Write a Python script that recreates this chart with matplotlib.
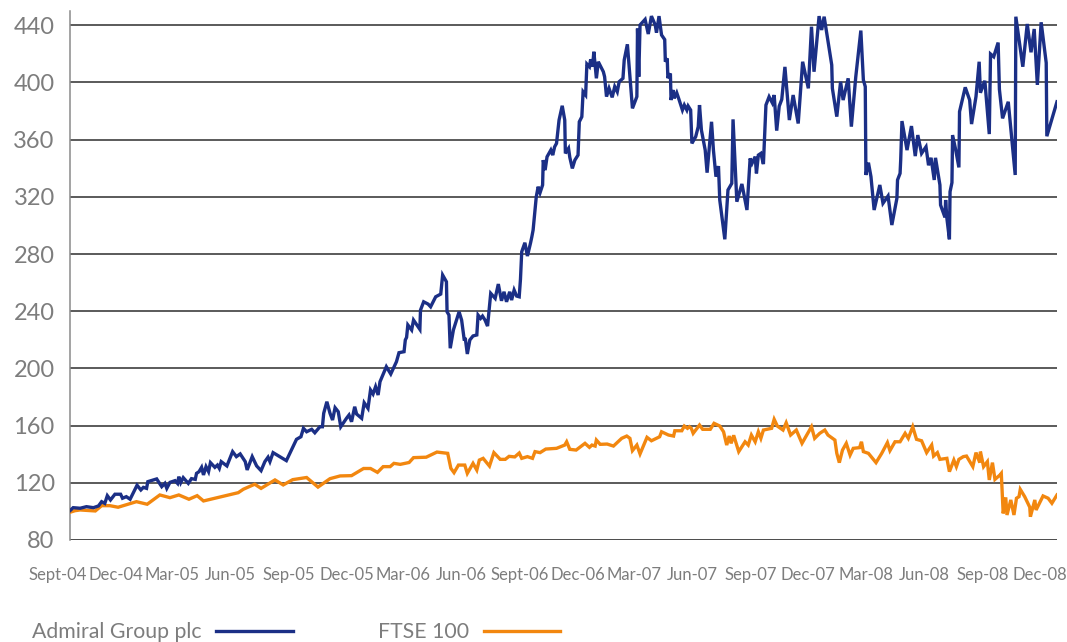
import numpy as np
import pandas as pd
import matplotlib
matplotlib.use("Agg")
import matplotlib.pyplot as plt

plt.rcParams['font.family'] = ['Lato', 'DejaVu Sans']

# days after 23 Sept 2004, share price rebased to 100
admiral_days = [0, 5, 16, 26, 37, 45, 50, 55, 59, 64, 71, 80, 83, 89, 95, 106, 112, 116, 121, 123,
                137, 145, 150, 153, 158, 166, 170, 172, 175, 179, 187, 192, 198, 200, 204, 208, 211,
                215, 219, 222, 229, 233, 236, 239, 248, 257, 263, 269, 277, 280, 288, 295, 302, 308,
                313, 316, 321, 342, 358, 365, 369, 374, 382, 387, 395, 399, 401, 406, 411, 415, 419,
                424, 428, 437, 441, 445, 450, 453, 461, 465, 471, 475, 479, 483, 487, 490, 500, 507,
                516, 520, 528, 530, 532, 534, 540, 543, 553, 554, 559, 566, 570, 578, 586, 589, 595,
                596, 599, 601, 606, 615, 619, 623, 625, 628, 632, 637, 643, 645, 649, 652, 656, 660,
                665, 672, 677, 682, 686, 690, 695, 698, 702, 706, 710, 712, 714, 719, 723, 728, 730,
                732, 737, 740, 743, 747, 748, 751, 754, 760, 763, 766, 769, 773, 778, 782, 783, 788,
                790, 794, 798, 803, 805, 809, 811, 815, 817, 821, 823, 826, 828, 832, 835, 843, 845,
                848, 852, 857, 861, 865, 868, 874, 876, 881, 885, 889, 896, 897, 899, 901, 909, 914,
                919, 925, 927, 931, 935, 940, 941, 944, 945, 949, 950, 953, 955, 959, 962, 968, 971,
                975, 977, 981, 983, 989, 993, 995, 998, 1004, 1007, 1014, 1017, 1021, 1025, 1027,
                1035, 1040, 1046, 1048, 1054, 1062, 1070, 1075, 1078, 1083, 1085, 1088, 1092, 1096,
                1100, 1105, 1110, 1113, 1117, 1121, 1125, 1130, 1137, 1143, 1151, 1158, 1167, 1172,
                1176, 1184, 1188, 1192, 1204, 1205, 1212, 1218, 1222, 1230, 1235, 1242, 1250, 1254,
                1257, 1258, 1262, 1266, 1271, 1280, 1285, 1293, 1299, 1307, 1308, 1312, 1313, 1315,
                1323, 1330, 1336, 1340, 1346, 1353, 1357, 1361, 1366, 1368, 1375, 1376, 1383, 1384,
                1386, 1390, 1391, 1394, 1395, 1400, 1405, 1406, 1415, 1422, 1425, 1432, 1437, 1439,
                1446, 1453, 1455, 1460, 1467, 1469, 1474, 1483, 1494, 1495, 1506, 1513, 1519, 1524,
                1529, 1535, 1543, 1544, 1560]
admiral_values = [100.5, 102.6, 102.2, 103.3, 102.6, 103.8, 106.8, 105.6, 111, 108, 112, 112, 109.2,
                  110.3, 108.5, 118.3, 115, 116.8, 116.1, 120.8, 122.7, 117.3, 119.6, 116.1, 120.3,
                  121.5, 119.6, 124.3, 120.1, 123.6, 119.6, 122.9, 122.4, 126.6, 127.8, 130.8, 125.5,
                  131.3, 127.8, 134.1, 130.8, 132.4, 130.1, 134.8, 131.8, 141.8, 138.3, 140.2, 134.8,
                  129, 138.3, 131.8, 128.5, 134.8, 137.9, 134.8, 141.1, 135.5, 150.4, 152.2, 158.1,
                  155.7, 157.4, 155, 159.2, 159.2, 168.6, 176.7, 168.6, 163.9, 172.5, 169.7, 159.2,
                  165.1, 167.4, 162.7, 173.2, 168.1, 165.1, 176, 172.1, 184.9, 182.1, 187.2, 181.4,
                  190.7, 201.2, 196.1, 204.7, 211, 211.7, 219.9, 221.7, 230.4, 226.9, 233.8, 227.3,
                  240.8, 246.6, 245, 243.1, 250.1, 252, 265.3, 260.6, 239.6, 237.3, 214.1, 226.9,
                  239.6, 233.8, 220.4, 220.4, 210.1, 219.9, 222.7, 223.4, 237.3, 235, 236.6, 233.8,
                  229.6, 252.5, 249, 259, 247.3, 253.6, 246.6, 253.6, 247.8, 254.8, 250.6, 250.1,
                  262.3, 281.6, 287.9, 278.6, 287.9, 292.1, 296.8, 320.1, 327.1, 322.9, 328.3, 345.7,
                  338.7, 348, 352.7, 349.2, 355, 357.4, 373.7, 383.7, 373.7, 350.4, 353.9, 347.6,
                  339.9, 345.7, 349.2, 372.5, 376, 393.5, 391.2, 412.9, 411, 416.2, 411, 421.5, 402.9,
                  414.5, 407.5, 404, 390.1, 395.9, 389.6, 397.1, 393.5, 400.5, 402.9, 415.7, 426.7,
                  404, 381.9, 390.1, 437.7, 404, 440.2, 444.1, 433.9, 446.4, 440.2, 434.9, 446.4,
                  433.2, 430, 414.5, 416.9, 403, 406.3, 387.7, 394.7, 388.9, 392.8, 388.9, 380.7,
                  384.2, 380.7, 383.5, 380.7, 357.4, 362.1, 369.1, 384.2, 366.7, 352.7, 336.9, 372.5,
                  352.7, 334.1, 341.5, 317.8, 290.3, 324.8, 329.4, 374.2, 316.6, 329, 310.8, 346.9,
                  343.4, 348.1, 336.4, 349.2, 350.4, 342.9, 384.2, 390, 385.8, 391.2, 366.3, 383.4,
                  388.1, 410.9, 373.7, 391.2, 371.3, 414.5, 395.9, 439, 407.5, 446.4, 436.7, 446,
                  412.2, 395.9, 376.1, 400.5, 387.7, 402.9, 369.1, 404, 436.3, 401.7, 397.1, 335.3,
                  343.9, 334.1, 310.8, 328.3, 315.5, 320.6, 300.3, 319, 331.8, 336.4, 345.7, 373,
                  352.7, 369.5, 348.5, 363.2, 350.4, 355, 342.1, 347.3, 331.8, 347.3, 328.3, 314.3,
                  305.6, 317.8, 305, 290.3, 323.6, 329.9, 363.2, 352.7, 340.6, 379.6, 396.6, 387.7,
                  370.9, 390.1, 414.5, 392.8, 401.2, 363.9, 419.9, 418, 427.9, 395.2, 374.9, 386.5,
                  335.3, 446, 411, 440.9, 421.1, 437.4, 398.3, 442.1, 413.7, 362.4, 386.5]

ftse_days = [0, 8, 16, 40, 50, 63, 76, 105, 122, 142, 158, 172, 188, 201, 211, 266, 274, 292, 302,
             324, 337, 352, 374, 392, 411, 427, 445, 464, 475, 486, 495, 506, 512, 522, 536, 543,
             563, 580, 597, 602, 607, 614, 624, 628, 637, 643, 647, 653, 663, 670, 680, 688, 694,
             703, 710, 714, 723, 731, 735, 743, 752, 769, 782, 785, 790, 800, 814, 821, 825, 830,
             832, 838, 849, 859, 872, 880, 885, 889, 896, 901, 912, 919, 932, 935, 946, 954, 956,
             967, 971, 976, 979, 982, 985, 995, 1000, 1012, 1018, 1027, 1033, 1038, 1042, 1045,
             1049, 1057, 1067, 1072, 1077, 1083, 1088, 1092, 1096, 1109, 1113, 1118, 1127, 1132,
             1139, 1148, 1157, 1172, 1177, 1185, 1193, 1198, 1209, 1212, 1216, 1221, 1227, 1233,
             1238, 1248, 1251, 1254, 1262, 1274, 1283, 1292, 1296, 1304, 1312, 1320, 1325, 1332,
             1338, 1346, 1354, 1362, 1365, 1371, 1375, 1386, 1390, 1397, 1401, 1405, 1412, 1417,
             1427, 1432, 1438, 1439, 1444, 1450, 1453, 1458, 1462, 1470, 1472, 1475, 1479, 1481,
             1487, 1492, 1496, 1500, 1502, 1509, 1517, 1518, 1525, 1527, 1538, 1546, 1552, 1560]
ftse_values = [99.4, 100.5, 101, 100.3, 104, 104, 102.9, 106.8, 105, 111.5, 109.6, 111.5, 108.5, 111,
               107.3, 113.1, 115.5, 119, 116.1, 122, 118.5, 122.2, 123.7, 117, 122.9, 124.8, 125,
               130, 130, 127.3, 131.3, 131.3, 133.6, 132.9, 134.2, 137.6, 137.9, 141.5, 140.6,
               130.1, 127.1, 132.4, 132.4, 126.6, 133.6, 128.9, 135.9, 137.1, 131.7, 141.1, 136.4,
               136.4, 138.5, 138.1, 140.8, 137.1, 138.3, 137.1, 141.8, 141.1, 143.6, 144.1, 146.4,
               148.7, 143.4, 142.9, 147.6, 144.8, 146.4, 145.7, 149.9, 146.9, 147.1, 145.7, 151.1,
               152.7, 151.1, 142.5, 146.4, 140.2, 151.8, 149.4, 152.2, 155.7, 153.4, 152.7, 156.4,
               156.4, 159.7, 158.1, 159.2, 158.1, 154.6, 160.4, 157.4, 157.4, 161.6, 159.7, 155.7,
               146.4, 152.7, 147.6, 153.2, 141.8, 148.7, 146.4, 153.4, 148.7, 155.7, 151.1, 156.9,
               158.1, 164.4, 159.7, 156.9, 162, 153.4, 156.9, 147.6, 159.2, 151.1, 154.6, 156.9,
               153.4, 149.9, 140.6, 134.1, 142.9, 147.6, 139.4, 144.1, 144.6, 148.7, 141.8, 140.6,
               134.1, 140.6, 148.1, 142.5, 148.7, 148.7, 154.6, 151.1, 159.2, 150.4, 149.4, 141.1,
               146.4, 138.7, 141.1, 136.4, 137.1, 127.8, 135.9, 131.3, 136.4, 138.3, 138.7, 131.3,
               141.1, 134.1, 141.8, 131.3, 134.8, 122, 134.1, 122.4, 125.5, 126.6, 98.6, 109.8,
               97.5, 108, 97.5, 109.2, 110.3, 115.4, 110.3, 102.9, 96.3, 108, 101, 110.8, 109.2,
               105.7, 111.5]

quarter_labels = ['Sept-04', 'Dec-04', 'Mar-05', 'Jun-05', 'Sep-05', 'Dec-05', 'Mar-06', 'Jun-06',
                  'Sept-06', 'Dec-06', 'Mar-07', 'Jun-07', 'Sep-07', 'Dec-07', 'Mar-08', 'Jun-08',
                  'Sep-08', 'Dec-08']
y_ticks = [80, 120, 160, 200, 240, 280, 320, 360, 400, 440]

BLUE = '#1b2f86'
ORANGE = '#f2870f'
GREY = '#7d7d7d'

start = pd.Timestamp('2004-09-23')
admiral_dates = start + pd.to_timedelta(admiral_days, unit='D')
ftse_dates = start + pd.to_timedelta(ftse_days, unit='D')
label_dates = pd.date_range('2004-09-01', periods=len(quarter_labels), freq='3MS') + pd.Timedelta(days=3)

fig = plt.figure(figsize=(10.67, 6.42), dpi=100)
ax = fig.add_axes([0.0656, 0.1589, 0.925, 0.824])

for y in y_ticks:
    ax.axhline(y, color='#2e2e2e' if y > 80 else '#1a1a1a', lw=1.1, zorder=1)

ax.plot(ftse_dates, ftse_values, color=ORANGE, lw=2.4, zorder=3, solid_joinstyle='miter')
ax.plot(admiral_dates, admiral_values, color=BLUE, lw=2.4, zorder=4, solid_joinstyle='miter')

ax.set_xlim(admiral_dates[0], admiral_dates[-1])
ax.set_ylim(80, 450)
ax.set_yticks(y_ticks)
ax.set_yticklabels([str(v) for v in y_ticks])
ax.tick_params(axis='y', length=0, pad=11, labelsize=17, labelcolor=GREY)
ax.set_xticks([])

for s in ['top', 'right', 'bottom']:
    ax.spines[s].set_visible(False)
ax.spines['left'].set_color('#8a8a8a')
ax.spines['left'].set_linewidth(1.1)

for d, lab in zip(label_dates, quarter_labels):
    ax.text(d, -0.066, lab, transform=ax.get_xaxis_transform(), ha='center', va='center',
            fontsize=12, color=GREY, clip_on=False)

h1, = ax.plot([], [], color=BLUE, lw=2.4)
h2, = ax.plot([], [], color=ORANGE, lw=2.4)
leg = fig.legend([h1, h2], ['Admiral Group plc', 'FTSE 100'], loc='lower left',
                 bbox_to_anchor=(0.030, 0.0), ncol=2, markerfirst=False, frameon=False,
                 fontsize=15.3, handlelength=3.6, handletextpad=0.7, columnspacing=4.0,
                 borderpad=0, borderaxespad=0)
for t in leg.get_texts():
    t.set_color(GREY)

fig.savefig('out.png', dpi=100)
